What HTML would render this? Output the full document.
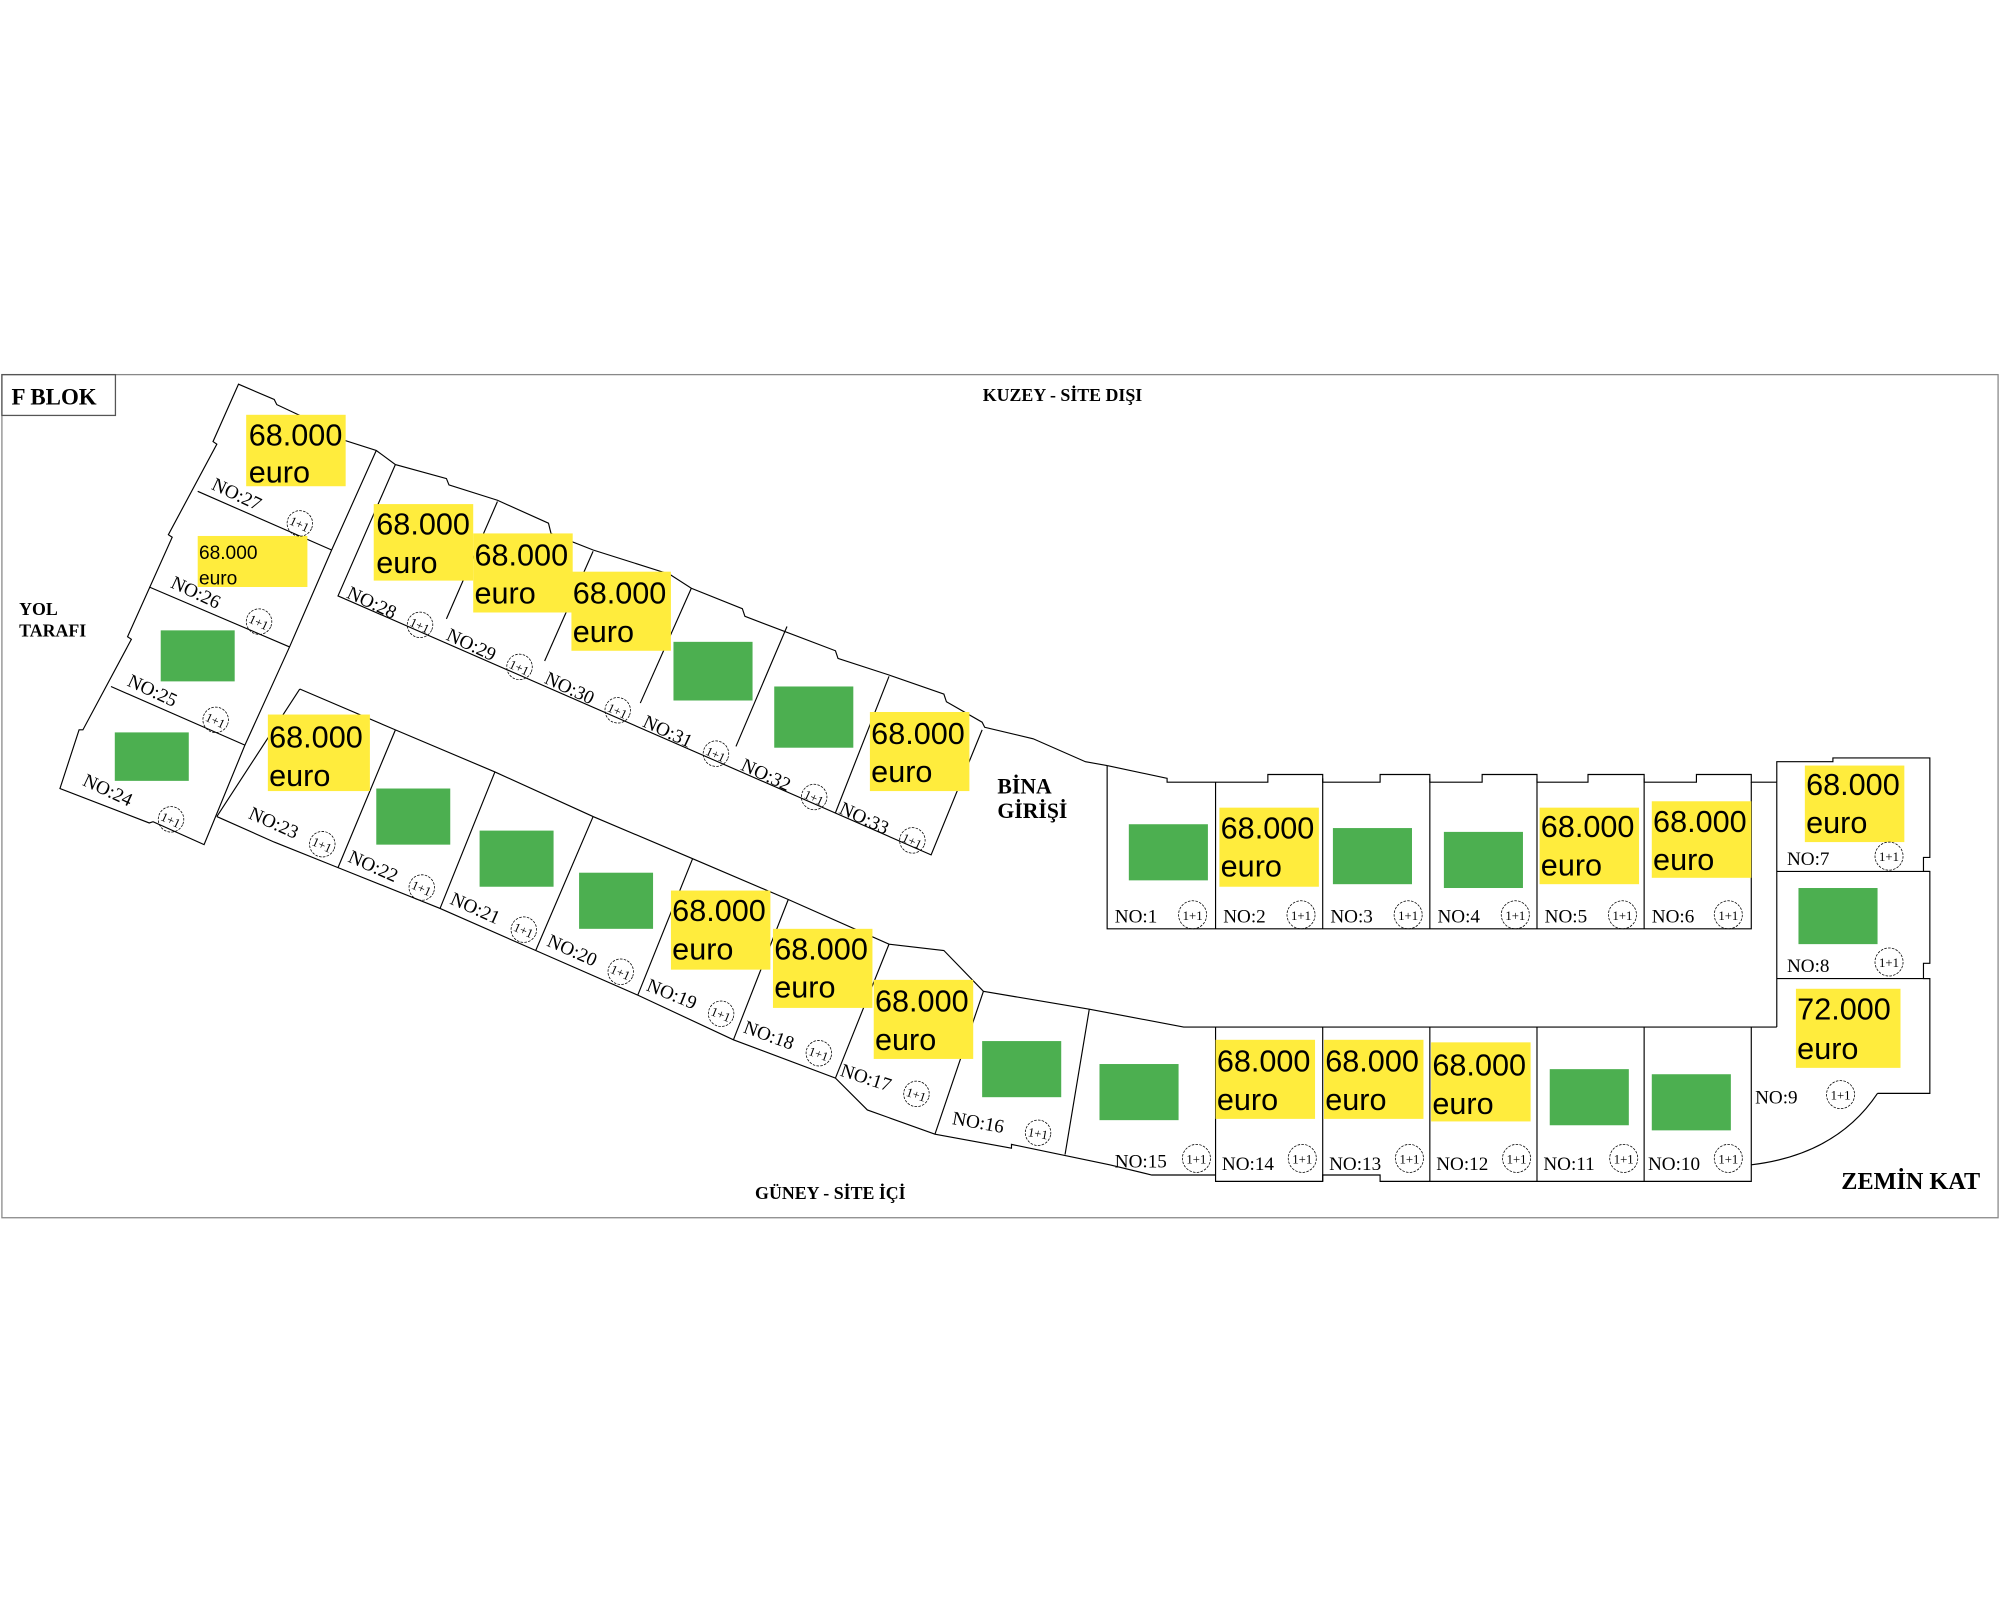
<!DOCTYPE html>
<html><head><meta charset="utf-8"><style>
html,body{margin:0;padding:0;background:#fff;}
svg{display:block}
.s{font-family:"Liberation Serif",serif;fill:#000}
.p{font-family:"Liberation Sans",sans-serif;fill:#000}
</style></head><body>
<svg width="2000" height="1600" viewBox="0 0 1568 1254" xmlns="http://www.w3.org/2000/svg">
<rect x="0" y="0" width="1568" height="1254" fill="#fff"/>
<rect x="1.5" y="293.5" width="1565" height="661" fill="none" stroke="#888" stroke-width="1"/>
<rect x="1.5" y="293.5" width="89" height="32" fill="none" stroke="#555" stroke-width="1"/>
<text class="s" x="9" y="317" font-size="18" font-weight="bold">F BLOK</text>
<text class="s" x="833" y="314" font-size="14" font-weight="bold" text-anchor="middle">KUZEY - SİTE DIŞI</text>
<text class="s" x="651" y="940" font-size="14" font-weight="bold" text-anchor="middle">GÜNEY - SİTE İÇİ</text>
<text class="s" x="15" y="482" font-size="14" font-weight="bold">YOL</text>
<text class="s" x="15" y="499" font-size="14" font-weight="bold">TARAFI</text>
<text class="s" x="782" y="622" font-size="17" font-weight="bold">BİNA</text>
<text class="s" x="782" y="641" font-size="17" font-weight="bold">GİRİŞİ</text>
<text class="s" x="1498" y="932" font-size="19" font-weight="bold" text-anchor="middle">ZEMİN KAT</text>

<g fill="none" stroke="#000" stroke-width="0.9">
<!-- left wing -->
<polygon points="187,301 215,313 217,317 268,341 270,345 295,353 260,431 227,507 192,584 160,662 120,644 117,645 47,618 62,572 65,572 103,501 100,499 135,421 132,419 170,348 167,346"/>
<line x1="155" y1="385" x2="260" y2="431"/>
<line x1="117" y1="460" x2="227" y2="507"/>
<line x1="87" y1="538" x2="192" y2="584"/>
<!-- upper wing -->
<polyline points="295,353 310,364 350,375 352,380 390,392 430,410 432,418 465,431 525,450 542,461 582,477 584,483 655,510 657,516 697,529 740,544 742,550 770,566 772,570 810,579 851,597 868,600"/>
<polyline points="310,364 265,467 730,670 770,572"/>
<line x1="390" y1="393" x2="350" y2="485"/>
<line x1="465" y1="432" x2="427" y2="518"/>
<line x1="542" y1="461" x2="502" y2="551"/>
<line x1="617" y1="491" x2="577" y2="585"/>
<line x1="697" y1="530" x2="655" y2="637"/>
<!-- lower wing -->
<polyline points="235,540 310,572 388,605 465,640 543,673 618,705 697,740 740,745 771,777 854,791 928,805 953,805"/>
<polyline points="170,640 215,660 265,680 345,712 420,745 500,780 575,815 655,845 680,870 733,889 793,900 793,897 870,913 903,921 953,921"/>
<line x1="235" y1="540" x2="170" y2="640"/>
<line x1="310" y1="572" x2="265" y2="680"/>
<line x1="388" y1="605" x2="345" y2="712"/>
<line x1="465" y1="640" x2="420" y2="745"/>
<line x1="543" y1="673" x2="500" y2="780"/>
<line x1="618" y1="705" x2="575" y2="815"/>
<line x1="697" y1="740" x2="655" y2="845"/>
<line x1="771" y1="777" x2="733" y2="889"/>
<line x1="854" y1="791" x2="835" y2="905"/>
<!-- right straight top -->
<polyline points="868,600 915,610 915,613 994,613 994,607 1037,607 1037,613 1082,613 1082,607 1121,607 1121,613 1162,613 1162,607 1205,607 1205,613 1245,613 1245,607 1289,607 1289,613 1330,613 1330,607 1373,607 1373,613 1393,613"/>
<polyline points="868,600 868,728 1373,728 1373,613"/>
<line x1="953" y1="613" x2="953" y2="728"/>
<line x1="1037" y1="610" x2="1037" y2="728"/>
<line x1="1121" y1="610" x2="1121" y2="728"/>
<line x1="1205" y1="610" x2="1205" y2="728"/>
<line x1="1289" y1="610" x2="1289" y2="728"/>
<!-- right end -->
<polyline points="1393,613 1393,597 1437,597 1437,594 1513,594 1513,672 1508,672 1508,683 1513,683 1513,755 1508,755 1508,767 1513,767 1513,857 1472,857"/>
<line x1="1393" y1="613" x2="1393" y2="805"/>
<line x1="1393" y1="683" x2="1513" y2="683"/>
<line x1="1393" y1="767" x2="1513" y2="767"/>
<path d="M1472,857 Q1440,905 1373,913"/>
<!-- bottom straight -->
<line x1="953" y1="805" x2="1393" y2="805"/>
<polyline points="953,921 953,926 1037,926 1037,921 1082,921 1082,926 1373,926 1373,805"/>
<line x1="953" y1="805" x2="953" y2="921"/>
<line x1="1037" y1="805" x2="1037" y2="926"/>
<line x1="1121" y1="805" x2="1121" y2="926"/>
<line x1="1205" y1="805" x2="1205" y2="926"/>
<line x1="1289" y1="805" x2="1289" y2="926"/>
</g>

<!-- yellow boxes -->
<g fill="#ffec3d">
<rect x="193" y="325" width="78" height="56"/>
<rect x="155" y="420" width="86" height="40"/>
<rect x="293" y="395" width="78" height="60"/>
<rect x="371" y="418" width="78" height="62"/>
<rect x="448" y="448" width="78" height="62"/>
<rect x="682" y="558" width="78" height="62"/>
<rect x="210" y="560" width="80" height="60"/>
<rect x="526" y="698" width="78" height="62"/>
<rect x="606" y="728" width="78" height="62"/>
<rect x="685" y="768" width="78" height="62"/>
<rect x="956" y="633" width="78" height="62"/>
<rect x="1207" y="633" width="78" height="60"/>
<rect x="1295" y="628" width="78" height="60"/>
<rect x="1415" y="600" width="78" height="60"/>
<rect x="1408" y="775" width="82" height="62"/>
<rect x="953" y="815" width="78" height="62"/>
<rect x="1038" y="815" width="78" height="62"/>
<rect x="1122" y="817" width="78" height="62"/>
</g>
<g class="p" font-size="24">
<text x="195" y="349">68.000</text><text x="195" y="378">euro</text>
<text x="295" y="419">68.000</text><text x="295" y="449">euro</text>
<text x="372" y="443">68.000</text><text x="372" y="473">euro</text>
<text x="449" y="473">68.000</text><text x="449" y="503">euro</text>
<text x="683" y="583">68.000</text><text x="683" y="613">euro</text>
<text x="211" y="586">68.000</text><text x="211" y="616">euro</text>
<text x="527" y="722">68.000</text><text x="527" y="752">euro</text>
<text x="607" y="752">68.000</text><text x="607" y="782">euro</text>
<text x="686" y="793">68.000</text><text x="686" y="823">euro</text>
<text x="957" y="657">68.000</text><text x="957" y="687">euro</text>
<text x="1208" y="656">68.000</text><text x="1208" y="686">euro</text>
<text x="1296" y="652">68.000</text><text x="1296" y="682">euro</text>
<text x="1416" y="623">68.000</text><text x="1416" y="653">euro</text>
<text x="1409" y="799">72.000</text><text x="1409" y="830">euro</text>
<text x="954" y="840">68.000</text><text x="954" y="870">euro</text>
<text x="1039" y="840">68.000</text><text x="1039" y="870">euro</text>
<text x="1123" y="843">68.000</text><text x="1123" y="873">euro</text>
</g>
<g class="p" font-size="15">
<text x="156" y="438">68.000</text><text x="156" y="458">euro</text>
</g>
<!-- green boxes -->
<g fill="#4caf50">
<rect x="126" y="494" width="58" height="40"/>
<rect x="90" y="574" width="58" height="38"/>
<rect x="295" y="618" width="58" height="44"/>
<rect x="376" y="651" width="58" height="44"/>
<rect x="454" y="684" width="58" height="44"/>
<rect x="528" y="503" width="62" height="46"/>
<rect x="607" y="538" width="62" height="48"/>
<rect x="770" y="816" width="62" height="44"/>
<rect x="862" y="834" width="62" height="44"/>
<rect x="885" y="646" width="62" height="44"/>
<rect x="1045" y="649" width="62" height="44"/>
<rect x="1132" y="652" width="62" height="44"/>
<rect x="1410" y="696" width="62" height="44"/>
<rect x="1215" y="838" width="62" height="44"/>
<rect x="1295" y="842" width="62" height="44"/>
</g>

<!-- rotated labels -->
<g class="s" font-size="15">
<g transform="translate(165,383) rotate(25)"><text>NO:27</text><circle cx="75" cy="-5" r="10" fill="none" stroke="#000" stroke-width="0.6" stroke-dasharray="2,1"/><text x="75" y="-1" font-size="10" text-anchor="middle">1+1</text></g>
<g transform="translate(133,460) rotate(25)"><text>NO:26</text><circle cx="75" cy="-5" r="10" fill="none" stroke="#000" stroke-width="0.6" stroke-dasharray="2,1"/><text x="75" y="-1" font-size="10" text-anchor="middle">1+1</text></g>
<g transform="translate(99,537) rotate(25)"><text>NO:25</text><circle cx="75" cy="-5" r="10" fill="none" stroke="#000" stroke-width="0.6" stroke-dasharray="2,1"/><text x="75" y="-1" font-size="10" text-anchor="middle">1+1</text></g>
<g transform="translate(64,615) rotate(25)"><text>NO:24</text><circle cx="75" cy="-5" r="10" fill="none" stroke="#000" stroke-width="0.6" stroke-dasharray="2,1"/><text x="75" y="-1" font-size="10" text-anchor="middle">1+1</text></g>
<g transform="translate(271,468) rotate(25)"><text>NO:28</text><circle cx="62" cy="-5" r="10" fill="none" stroke="#000" stroke-width="0.6" stroke-dasharray="2,1"/><text x="62" y="-1" font-size="10" text-anchor="middle">1+1</text></g>
<g transform="translate(349,501) rotate(25)"><text>NO:29</text><circle cx="62" cy="-5" r="10" fill="none" stroke="#000" stroke-width="0.6" stroke-dasharray="2,1"/><text x="62" y="-1" font-size="10" text-anchor="middle">1+1</text></g>
<g transform="translate(426,535) rotate(25)"><text>NO:30</text><circle cx="62" cy="-5" r="10" fill="none" stroke="#000" stroke-width="0.6" stroke-dasharray="2,1"/><text x="62" y="-1" font-size="10" text-anchor="middle">1+1</text></g>
<g transform="translate(503,569) rotate(25)"><text>NO:31</text><circle cx="62" cy="-5" r="10" fill="none" stroke="#000" stroke-width="0.6" stroke-dasharray="2,1"/><text x="62" y="-1" font-size="10" text-anchor="middle">1+1</text></g>
<g transform="translate(580,603) rotate(25)"><text>NO:32</text><circle cx="62" cy="-5" r="10" fill="none" stroke="#000" stroke-width="0.6" stroke-dasharray="2,1"/><text x="62" y="-1" font-size="10" text-anchor="middle">1+1</text></g>
<g transform="translate(657,637) rotate(25)"><text>NO:33</text><circle cx="62" cy="-5" r="10" fill="none" stroke="#000" stroke-width="0.6" stroke-dasharray="2,1"/><text x="62" y="-1" font-size="10" text-anchor="middle">1+1</text></g>
<g transform="translate(194,641) rotate(24)"><text>NO:23</text><circle cx="62" cy="-5" r="10" fill="none" stroke="#000" stroke-width="0.6" stroke-dasharray="2,1"/><text x="62" y="-1" font-size="10" text-anchor="middle">1+1</text></g>
<g transform="translate(272,675) rotate(24)"><text>NO:22</text><circle cx="62" cy="-5" r="10" fill="none" stroke="#000" stroke-width="0.6" stroke-dasharray="2,1"/><text x="62" y="-1" font-size="10" text-anchor="middle">1+1</text></g>
<g transform="translate(352,708) rotate(24)"><text>NO:21</text><circle cx="62" cy="-5" r="10" fill="none" stroke="#000" stroke-width="0.6" stroke-dasharray="2,1"/><text x="62" y="-1" font-size="10" text-anchor="middle">1+1</text></g>
<g transform="translate(428,741) rotate(24)"><text>NO:20</text><circle cx="62" cy="-5" r="10" fill="none" stroke="#000" stroke-width="0.6" stroke-dasharray="2,1"/><text x="62" y="-1" font-size="10" text-anchor="middle">1+1</text></g>
<g transform="translate(506,776) rotate(22)"><text>NO:19</text><circle cx="62" cy="-5" r="10" fill="none" stroke="#000" stroke-width="0.6" stroke-dasharray="2,1"/><text x="62" y="-1" font-size="10" text-anchor="middle">1+1</text></g>
<g transform="translate(582,809) rotate(20)"><text>NO:18</text><circle cx="62" cy="-5" r="10" fill="none" stroke="#000" stroke-width="0.6" stroke-dasharray="2,1"/><text x="62" y="-1" font-size="10" text-anchor="middle">1+1</text></g>
<g transform="translate(658,843) rotate(18)"><text>NO:17</text><circle cx="62" cy="-5" r="10" fill="none" stroke="#000" stroke-width="0.6" stroke-dasharray="2,1"/><text x="62" y="-1" font-size="10" text-anchor="middle">1+1</text></g>
<g transform="translate(746,881) rotate(10)"><text>NO:16</text><circle cx="68" cy="-5" r="10" fill="none" stroke="#000" stroke-width="0.6" stroke-dasharray="2,1"/><text x="68" y="-1" font-size="10" text-anchor="middle">1+1</text></g>
</g>
<!-- straight labels -->
<g class="s" font-size="15">
<text x="874" y="723">NO:1</text>
<text x="959" y="723">NO:2</text>
<text x="1043" y="723">NO:3</text>
<text x="1127" y="723">NO:4</text>
<text x="1211" y="723">NO:5</text>
<text x="1295" y="723">NO:6</text>
<text x="1401" y="678">NO:7</text>
<text x="1401" y="762">NO:8</text>
<text x="1376" y="865">NO:9</text>
<text x="874" y="915">NO:15</text>
<text x="958" y="917">NO:14</text>
<text x="1042" y="917">NO:13</text>
<text x="1126" y="917">NO:12</text>
<text x="1210" y="917">NO:11</text>
<text x="1292" y="917">NO:10</text>
</g>
<g fill="none" stroke="#000" stroke-width="0.6" stroke-dasharray="2,1">
<circle cx="935" cy="717" r="11"/><circle cx="1020" cy="717" r="11"/><circle cx="1104" cy="717" r="11"/>
<circle cx="1188" cy="717" r="11"/><circle cx="1272" cy="717" r="11"/><circle cx="1355" cy="717" r="11"/>
<circle cx="1481" cy="671" r="11"/><circle cx="1481" cy="754" r="11"/><circle cx="1443" cy="858" r="11"/>
<circle cx="938" cy="908" r="11"/><circle cx="1021" cy="908" r="11"/><circle cx="1105" cy="908" r="11"/>
<circle cx="1189" cy="908" r="11"/><circle cx="1273" cy="908" r="11"/><circle cx="1355" cy="908" r="11"/>
</g>
<g class="s" font-size="10" text-anchor="middle">
<text x="935" y="721">1+1</text><text x="1020" y="721">1+1</text><text x="1104" y="721">1+1</text>
<text x="1188" y="721">1+1</text><text x="1272" y="721">1+1</text><text x="1355" y="721">1+1</text>
<text x="1481" y="675">1+1</text><text x="1481" y="758">1+1</text><text x="1443" y="862">1+1</text>
<text x="938" y="912">1+1</text><text x="1021" y="912">1+1</text><text x="1105" y="912">1+1</text>
<text x="1189" y="912">1+1</text><text x="1273" y="912">1+1</text><text x="1355" y="912">1+1</text>
</g>
</svg>
</body></html>
